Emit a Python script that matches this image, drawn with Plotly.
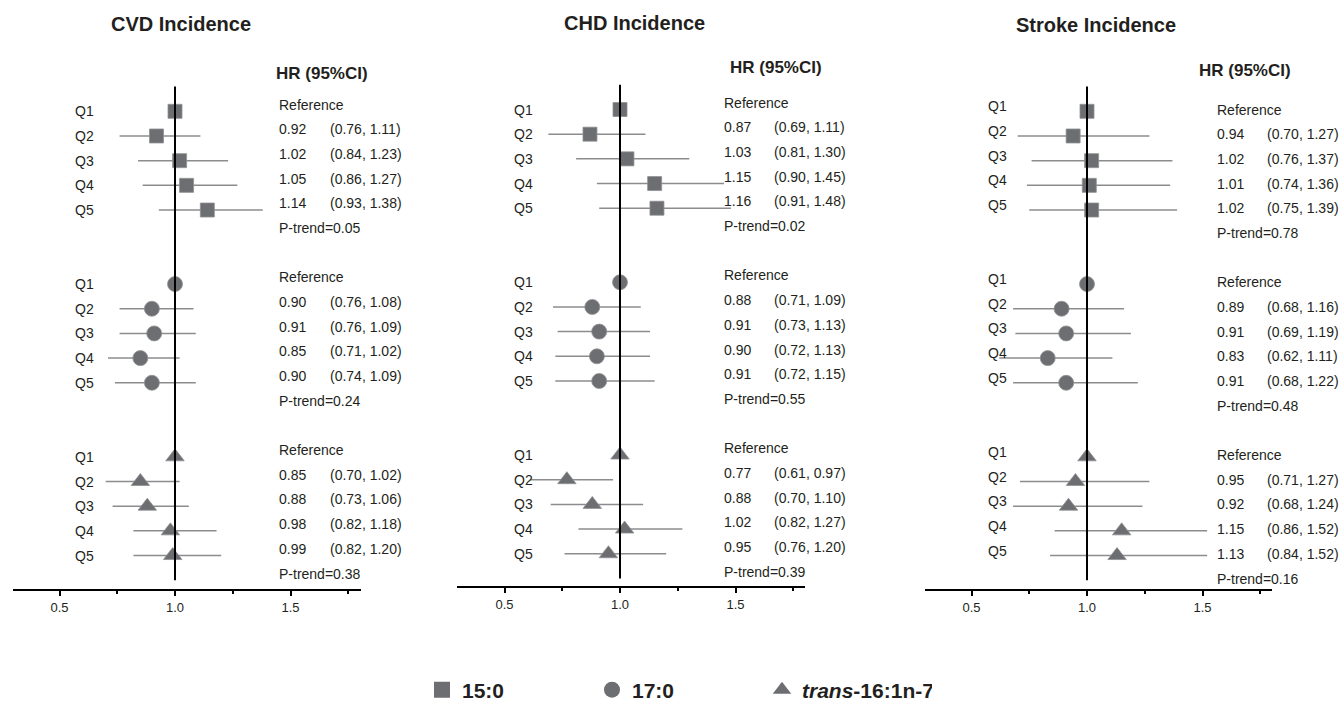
import plotly.graph_objects as go

# ---------------- data ----------------
panel_titles = ["CVD Incidence", "CHD Incidence", "Stroke Incidence"]
acid_names = ["15:0", "17:0", "<i>trans</i>-16:1n-7"]
quintiles = ["Q1", "Q2", "Q3", "Q4", "Q5"]

# CVD
cvd_150_hr = [1.00, 0.92, 1.02, 1.05, 1.14]
cvd_150_lo = [1.00, 0.76, 0.84, 0.86, 0.93]
cvd_150_hi = [1.00, 1.11, 1.23, 1.27, 1.38]
cvd_170_hr = [1.00, 0.90, 0.91, 0.85, 0.90]
cvd_170_lo = [1.00, 0.76, 0.76, 0.71, 0.74]
cvd_170_hi = [1.00, 1.08, 1.09, 1.02, 1.09]
cvd_t161_hr = [1.00, 0.85, 0.88, 0.98, 0.99]
cvd_t161_lo = [1.00, 0.70, 0.73, 0.82, 0.82]
cvd_t161_hi = [1.00, 1.02, 1.06, 1.18, 1.20]
cvd_ptrend = [0.05, 0.24, 0.38]

# CHD
chd_150_hr = [1.00, 0.87, 1.03, 1.15, 1.16]
chd_150_lo = [1.00, 0.69, 0.81, 0.90, 0.91]
chd_150_hi = [1.00, 1.11, 1.30, 1.45, 1.48]
chd_170_hr = [1.00, 0.88, 0.91, 0.90, 0.91]
chd_170_lo = [1.00, 0.71, 0.73, 0.72, 0.72]
chd_170_hi = [1.00, 1.09, 1.13, 1.13, 1.15]
chd_t161_hr = [1.00, 0.77, 0.88, 1.02, 0.95]
chd_t161_lo = [1.00, 0.61, 0.70, 0.82, 0.76]
chd_t161_hi = [1.00, 0.97, 1.10, 1.27, 1.20]
chd_ptrend = [0.02, 0.55, 0.39]

# Stroke
stk_150_hr = [1.00, 0.94, 1.02, 1.01, 1.02]
stk_150_lo = [1.00, 0.70, 0.76, 0.74, 0.75]
stk_150_hi = [1.00, 1.27, 1.37, 1.36, 1.39]
stk_170_hr = [1.00, 0.89, 0.91, 0.83, 0.91]
stk_170_lo = [1.00, 0.68, 0.69, 0.62, 0.68]
stk_170_hi = [1.00, 1.16, 1.19, 1.11, 1.22]
stk_t161_hr = [1.00, 0.95, 0.92, 1.15, 1.13]
stk_t161_lo = [1.00, 0.71, 0.68, 0.86, 0.84]
stk_t161_hi = [1.00, 1.27, 1.24, 1.52, 1.52]
stk_ptrend = [0.78, 0.48, 0.16]

tick_vals = [0.5, 1.0, 1.5]
minor_tick_vals = [0.75, 1.25, 1.75]
reference_hr = 1.0

panels_data = [
    [(cvd_150_hr, cvd_150_lo, cvd_150_hi), (cvd_170_hr, cvd_170_lo, cvd_170_hi),
     (cvd_t161_hr, cvd_t161_lo, cvd_t161_hi)],
    [(chd_150_hr, chd_150_lo, chd_150_hi), (chd_170_hr, chd_170_lo, chd_170_hi),
     (chd_t161_hr, chd_t161_lo, chd_t161_hi)],
    [(stk_150_hr, stk_150_lo, stk_150_hi), (stk_170_hr, stk_170_lo, stk_170_hi),
     (stk_t161_hr, stk_t161_lo, stk_t161_hi)],
]
panels_ptrend = [cvd_ptrend, chd_ptrend, stk_ptrend]

# ---------------- layout / style ----------------
W, H = 1341, 702
FONT = "Liberation Sans, Arial, Helvetica, sans-serif"
TXT = "#231f20"
MARK = "#6d6e71"
CI = "#8c8c8e"
SYMBOLS = ["square", "circle", "triangle-up"]
SIZES = [14, 15, 16]
LEGEND_SIZE = 16
ROW_H = 24.68          # px between rows
GROUP_STEP = 7         # rows per group (5 quintiles + p-trend + gap)
PX_PER_UNIT = 231.0

geo = [
    dict(x0=13, x1=361, one=175, row0=111.3, top=80, bottom=589, title_x=181, title_y=24,
         hdr_x=274, hdr_y=73, q_x=73, q_dy=0, txt_x=277, ci_x=328, txt_dy=6.7),
    dict(x0=457, x1=805, one=620, row0=109.5, top=78, bottom=586, title_x=634, title_y=23,
         hdr_x=728, hdr_y=68, q_x=512, q_dy=0, txt_x=722, ci_x=772, txt_dy=6.8),
    dict(x0=925, x1=1272, one=1087, row0=111.3, top=80, bottom=589, title_x=1096, title_y=25,
         hdr_x=1197, hdr_y=70, q_x=986, q_dy=5, txt_x=1215, ci_x=1265, txt_dy=1.7),
]

fig = go.Figure()
annotations = []
shapes = []
layout_axes = {}

for p, g in enumerate(geo):
    sfx = "" if p == 0 else str(p + 1)
    xa, ya = "x" + sfx, "y" + sfx
    for a, (hr, lo, hi) in enumerate(panels_data[p]):
        rows = [GROUP_STEP * a + i for i in range(len(hr))]
        fig.add_trace(go.Scatter(
            x=hr, y=rows, xaxis=xa, yaxis=ya, mode="markers",
            name=acid_names[a], legendgroup=acid_names[a], showlegend=False,
            marker=dict(symbol=SYMBOLS[a], size=SIZES[a], color=MARK,
                        line=dict(width=0.8, color="#8f9092")),
            error_x=dict(type="data", symmetric=False,
                         array=[h - v for h, v in zip(hi, hr)],
                         arrayminus=[v - l for v, l in zip(hr, lo)],
                         color=CI, thickness=1.5, width=0),
            hoverinfo="skip",
        ))
        # text column
        for i in range(len(hr)):
            r = GROUP_STEP * a + i
            annotations.append(dict(
                text=quintiles[i], xref="paper", yref=ya, x=g["q_x"] / W, y=r,
                xanchor="left", yanchor="middle", yshift=g["q_dy"], showarrow=False,
                font=dict(size=14, color=TXT)))
            if i == 0:
                annotations.append(dict(
                    text="Reference", xref="paper", yref=ya, x=g["txt_x"] / W, y=r,
                    xanchor="left", yanchor="middle", yshift=g["txt_dy"], showarrow=False,
                    font=dict(size=14, color=TXT)))
            else:
                annotations.append(dict(
                    text=f"{hr[i]:.2f}", xref="paper", yref=ya, x=g["txt_x"] / W, y=r,
                    xanchor="left", yanchor="middle", yshift=g["txt_dy"], showarrow=False,
                    font=dict(size=14, color=TXT)))
                annotations.append(dict(
                    text=f"({lo[i]:.2f}, {hi[i]:.2f})", xref="paper", yref=ya,
                    x=g["ci_x"] / W, y=r, xanchor="left", yanchor="middle",
                    yshift=g["txt_dy"], showarrow=False, font=dict(size=14, color=TXT)))
        annotations.append(dict(
            text=f"P-trend={panels_ptrend[p][a]:.2f}", xref="paper", yref=ya,
            x=g["txt_x"] / W, y=GROUP_STEP * a + len(hr), xanchor="left", yanchor="middle",
            yshift=g["txt_dy"], showarrow=False, font=dict(size=14, color=TXT)))

    # titles / headers
    annotations.append(dict(
        text=f"<b>{panel_titles[p]}</b>", xref="paper", yref="paper",
        x=g["title_x"] / W, y=1 - g["title_y"] / H, xanchor="center", yanchor="middle",
        showarrow=False, font=dict(size=20, color=TXT)))
    annotations.append(dict(
        text="<b>HR (95%CI)</b>", xref="paper", yref="paper",
        x=g["hdr_x"] / W, y=1 - g["hdr_y"] / H, xanchor="left", yanchor="middle",
        showarrow=False, font=dict(size=17, color=TXT)))

    # reference line at HR = 1
    shapes.append(dict(type="line", xref=xa, yref=ya, x0=reference_hr, x1=reference_hr,
                       y0=-1, y1=GROUP_STEP * 3 - 2, line=dict(color="black", width=2),
                       layer="above"))

    xr = [reference_hr - (g["one"] - g["x0"]) / PX_PER_UNIT,
          reference_hr + (g["x1"] - g["one"]) / PX_PER_UNIT]
    yr = [(g["bottom"] - g["row0"]) / ROW_H, (g["top"] - g["row0"]) / ROW_H]
    layout_axes["xaxis" + sfx] = dict(
        domain=[g["x0"] / W, g["x1"] / W], range=xr, anchor=ya,
        showline=True, linewidth=2, linecolor="black", mirror=False,
        showgrid=False, zeroline=False,
        tickmode="array", tickvals=tick_vals, tickformat=".1f",
        ticks="outside", ticklen=5, tickwidth=1.5, tickcolor="black",
        tickfont=dict(size=13, color=TXT, family=FONT),
        minor=dict(tickmode="array", tickvals=minor_tick_vals, ticks="outside",
                   ticklen=3, tickwidth=1.5, tickcolor="black", showgrid=False),
        fixedrange=True)
    layout_axes["yaxis" + sfx] = dict(
        domain=[1 - g["bottom"] / H, 1 - g["top"] / H], range=yr, anchor=xa,
        visible=False, showgrid=False, zeroline=False, fixedrange=True)

# legend-only entries (no visible points)
for a, nm in enumerate(acid_names):
    fig.add_trace(go.Scatter(
        x=[None], y=[None], mode="markers", name=nm, legendgroup=nm, showlegend=True,
        marker=dict(symbol=SYMBOLS[a], size=LEGEND_SIZE, color=MARK), hoverinfo="skip"))

fig.update_layout(
    width=W, height=H, autosize=False,
    margin=dict(l=0, r=0, t=0, b=0, pad=0, autoexpand=False),
    paper_bgcolor="white", plot_bgcolor="white",
    font=dict(family=FONT, color=TXT),
    annotations=annotations, shapes=shapes,
    showlegend=True,
    legend=dict(orientation="h", x=(442 - 20) / W, y=1 - 690 / H,
                xanchor="left", yanchor="middle",
                font=dict(size=21, color=TXT, family=FONT, weight="bold"),
                entrywidth=125, entrywidthmode="pixels",
                bgcolor="rgba(0,0,0,0)", itemclick=False, itemdoubleclick=False),
    **layout_axes,
)

fig.write_html(
    "out.html",
    config={"displayModeBar": False},
    post_script="document.body.style.margin='0';document.body.style.padding='0';"
                "document.documentElement.style.overflow='hidden';",
)
